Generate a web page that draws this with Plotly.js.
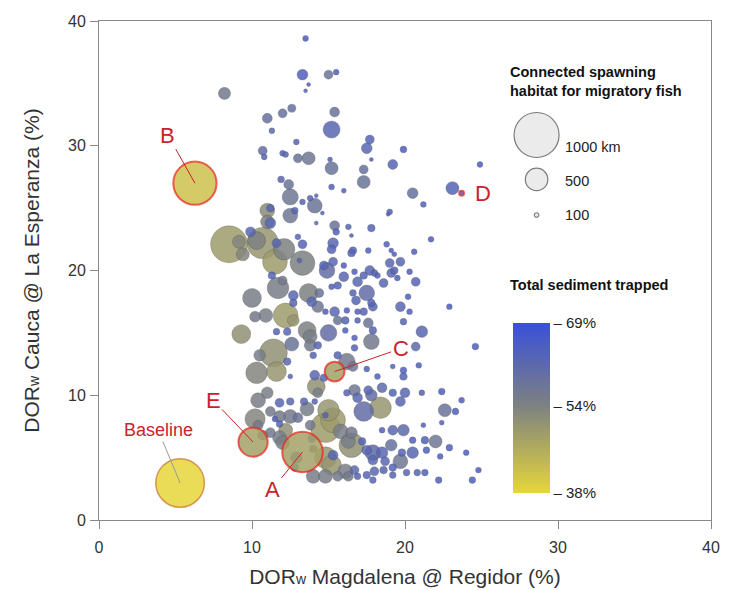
<!DOCTYPE html>
<html><head><meta charset="utf-8">
<script src="https://cdn.plot.ly/plotly-3.0.1.min.js"></script>
<style>html,body{margin:0;padding:0;background:#fff}</style>
</head><body><div id="chart" style="width:731px;height:590px"></div>
<script>
// Main alternatives: [DOR Magdalena, DOR Cauca, habitat km, sediment %]
const dorMagdalena = [13.5,13.3,15.0,15.5,13.7,13.5,8.2,11.0,12.0,12.6,11.3,15.4,15.2,12.9,17.7,17.5,19.9,10.7,10.8,12.0,12.2,13.0,13.7,15.1,15.2,17.8,17.3,17.3,19.2,24.9,11.9,12.4,15.2,16.0,12.5,14.1,13.8,14.2,13.3,12.5,12.8,14.6,20.5,21.2,23.1,19.0,18.9,14.2,15.4,16.3,17.8,11.0,11.2,11.2,11.0,
8.5,9.15,9.4,10.3,10.7,9.9,11.6,12.1,11.5,13.3,13.1,13.0,13.3,15.3,15.2,15.5,16.5,16.6,16.5,17.6,18.8,19.1,19.3,19.7,19.0,20.6,21.7,14.7,15.3,14.9,16.0,16.0,16.7,17.3,17.7,18.0,18.2,19.1,19.3,19.5,20.3,20.7,18.6,16.9,17.5,16.6,16.8,15.6,15.2,14.4,13.7,13.9,14.3,11.3,11.7,12.0,12.7,12.7,10.0,10.9,10.2,12.2,12.7,9.3,11.6,12.3,12.6,11.4,10.5,12.3,10.3,11.6,12.5,14.8,15.4,16.2,17.3,17.9,19.7,20.3,22.9,15.6,16.1,16.9,17.6,17.9,19.9,21.1,13.6,13.8,15.0,16.1,13.8,14.3,17.8,16.7,20.7,24.6,14.0,16.2,16.6,14.1,14.7,17.5,19.9,19.9,20.9,20.2,19.2,18.2,15.6,17.8,16.7,16.9,
14.2,14.3,16.7,16.2,17.8,18.5,19.2,20.0,21.1,22.4,23.7,22.6,23.3,22.4,21.2,18.4,17.3,16.9,19.7,17.6,11.0,10.4,11.8,12.5,13.6,13.4,14.1,15.0,15.3,14.8,15.8,16.5,16.3,10.2,11.5,11.8,12.5,13.0,12.2,11.8,11.2,13.8,14.8,13.9,14.0,12.9,12.8,14.8,15.2,15.3,14.0,14.8,16.1,15.6,16.7,16.5,17.2,17.5,17.9,18.5,17.9,18.7,18.5,19.2,19.9,19.1,19.8,19.7,19.2,20.5,20.5,21.3,22.0,21.4,22.3,22.9,24.0,24.8,24.4,22.2,20.8,20.1,18.6,18.0,17.5,17.9,16.9,16.3,19.2,21.3,10.7,10.4,11.2,11.8,12.0];
const dorCauca = [38.6,35.7,35.7,35.9,34.9,34.4,34.2,32.2,32.6,33.0,31.2,32.7,31.3,30.3,30.5,29.8,29.7,29.6,29.1,29.4,29.3,29.0,29.0,28.9,28.2,28.9,28.1,27.1,28.5,28.5,27.3,26.9,26.7,26.4,25.9,25.2,25.8,26.0,25.5,24.4,24.8,24.6,26.2,25.3,26.6,24.7,24.5,23.8,23.6,23.5,23.4,24.8,25.0,23.8,23.9,
22.1,22.3,21.3,22.4,22.2,23.1,22.2,21.7,20.7,20.6,20.8,22.7,22.1,22.2,21.7,23.1,22.8,21.6,21.4,21.6,22.1,21.6,21.3,20.7,20.6,21.5,22.5,20.4,20.7,20.0,20.4,19.5,19.9,19.6,20.0,19.8,19.6,19.8,20.0,19.4,19.9,19.1,19.0,19.1,18.2,18.2,17.6,18.8,18.7,18.2,18.2,17.5,17.1,19.6,18.6,19.2,18.0,17.4,17.8,16.4,16.3,16.4,16.0,14.9,15.1,15.1,14.1,13.4,13.2,12.7,11.8,11.9,11.5,16.7,16.7,16.8,16.7,17.1,17.1,16.7,17.1,16.0,16.0,16.0,15.8,15.2,15.9,15.1,15.2,14.7,15.0,15.2,14.0,14.0,14.3,13.8,13.9,13.9,13.2,12.7,12.3,11.6,11.4,12.1,12.0,11.5,12.4,17.9,12.3,11.5,13.2,17.4,14.6,16.7,
10.7,10.2,10.4,10.2,10.0,10.6,10.2,10.2,10.2,10.3,9.6,8.8,8.7,7.8,7.6,9.0,8.7,9.8,9.5,10.4,10.2,9.6,9.4,9.5,8.9,9.5,9.5,8.8,8.0,7.4,7.1,6.0,6.3,8.1,8.1,8.3,8.3,8.2,7.2,6.6,7.0,7.6,8.4,6.5,5.7,5.0,4.2,5.0,4.4,5.2,3.5,3.5,3.9,3.5,4.0,7.0,6.3,5.6,5.4,5.4,4.8,4.7,7.2,7.2,7.2,6.0,5.4,4.7,4.2,5.4,6.4,6.4,6.3,5.6,5.1,5.8,5.4,4.0,3.2,3.2,3.8,3.8,4.0,3.9,3.6,3.2,3.5,3.5,3.6,3.8,6.8,7.6,8.7,7.7,6.2];
const habitatKm = [130,240,200,130,60,60,270,220,200,180,130,220,380,130,200,240,150,200,130,130,130,200,290,110,290,60,200,290,220,130,150,220,130,110,360,330,130,60,130,330,150,60,240,130,290,130,60,90,220,130,170,330,170,240,300,
820,290,290,400,700,220,200,480,550,550,110,130,200,240,200,150,90,170,170,130,130,110,110,200,200,130,130,200,200,350,130,220,130,170,220,150,130,200,170,130,130,200,200,220,350,150,200,170,130,200,420,220,260,170,480,200,220,170,420,310,240,550,260,420,150,170,310,620,260,170,480,440,110,130,220,130,170,200,220,130,130,200,170,130,220,170,150,260,400,310,370,130,260,170,350,150,200,150,150,370,220,220,170,130,150,170,130,130,110,130,170,170,130,130,
400,220,260,150,260,220,170,220,130,150,130,290,150,110,110,480,440,220,220,200,260,330,200,170,310,170,130,480,550,660,330,550,310,450,130,260,310,220,310,310,220,220,130,170,170,260,170,480,440,220,310,310,330,220,200,260,170,220,350,260,220,200,130,220,260,260,170,330,170,260,150,170,290,150,130,150,130,130,150,150,150,150,170,200,170,150,150,220,150,150,220,220,220,150,310];
const sediment = [65,64,58,64,64,63,56,59,59,59,61,58,62,63,63,62,65,60,63,63,62,58,57,64,58,64,59,58,63,65,62,58,64,64,57,58,63,63,63,57,63,64,59,64,63,64,64,63,58,63,63,52,63,62,54,
49,53,53,54,50,62,62,54,49,54,63,63,63,62,63,64,64,63,63,64,64,64,64,62,62,64,65,63,62,60,64,62,64,63,62,63,64,62,63,64,64,63,62,62,60,63,63,63,64,58,54,62,57,63,55,56,62,63,55,55,56,49,50,51,63,62,58,51,55,62,53,50,63,64,62,64,63,63,62,64,65,58,63,64,58,63,63,62,54,55,60,64,56,63,56,63,61,64,63,56,57,62,63,64,64,63,64,64,64,64,63,63,64,64,
51,55,57,63,60,61,63,62,64,64,64,58,64,64,64,50,60,62,62,62,55,55,62,62,55,62,63,50,49,49,55,51,55,53,63,56,56,58,51,55,56,56,63,63,56,62,63,50,50,62,55,55,55,56,61,56,63,62,61,62,62,62,64,62,61,59,63,57,63,62,64,64,57,64,64,64,65,65,64,64,63,63,63,62,63,63,63,56,63,64,55,56,56,63,55];

// Highlighted alternatives
const hlLabels = ['Baseline','B','C','D','E','A'];
const hlMagdalena = [5.3,6.27,15.4,23.7,10.07,13.3];
const hlCauca = [2.97,27.0,11.9,26.2,6.25,5.45];
const hlKm = [1080,960,440,110,650,900];
const hlSediment = [38,42,48,64,48,48];

// Size legend and colour bar
const legendKm = [1000,500,100];
const legendLabels = ['1000 km','500','100'];
const colorTicks = [38,54,69];
const colorTickText = ['– 38%','– 54%','– 69%'];

const RED = '#c8232b';
const sizeRef = 1/0.045;
const cscale = [[0,'#e6d63a'],[0.516,'#7d8182'],[1,'#3a50da']];

// draw large bubbles first
const order = habitatKm.map((_,i)=>i).sort((a,b)=>habitatKm[b]-habitatKm[a]);
const pick = arr => order.map(i=>arr[i]);

const mainTrace = {
  type:'scatter', mode:'markers', xaxis:'x', yaxis:'y',
  x:pick(dorMagdalena), y:pick(dorCauca),
  marker:{size:pick(habitatKm), sizemode:'diameter', sizeref:sizeRef, sizemin:2,
    color:pick(sediment), cmin:38, cmax:69, colorscale:cscale, opacity:0.85,
    line:{width:0.7,color:'rgba(70,70,70,0.45)'},
    colorbar:{x:(513-99)/612, xanchor:'left', y:(520-408)/499, yanchor:'middle',
      len:170/499, lenmode:'fraction', thickness:37, thicknessmode:'pixels',
      outlinewidth:0, tickvals:colorTicks, ticktext:colorTickText, ticks:'',
      tickfont:{size:15,color:'#222'}, xpad:0, ypad:0}},
  hoverinfo:'skip'
};
const hlFill = {
  type:'scatter', mode:'markers', x:hlMagdalena, y:hlCauca,
  marker:{size:hlKm, sizemode:'diameter', sizeref:sizeRef, color:hlSediment,
    cmin:38, cmax:69, colorscale:cscale, opacity:0.85, showscale:false, line:{width:0}},
  hoverinfo:'skip'
};
const hlRing = {
  type:'scatter', mode:'markers', x:hlMagdalena, y:hlCauca,
  marker:{size:hlKm, sizemode:'diameter', sizeref:sizeRef, color:'rgba(0,0,0,0)',
    line:{width:hlLabels.map(l=>l==='Baseline'?1.5:2), color:hlLabels.map(l=>l==='Baseline'?'#c9702c':'#e8251c')}},
  hoverinfo:'skip'
};
const sizeLegend = {
  type:'scatter', mode:'markers', xaxis:'x2', yaxis:'y2', cliponaxis:false,
  x:legendKm.map(()=>0.5), y:legendKm,
  marker:{size:legendKm, sizemode:'diameter', sizeref:sizeRef, color:'#e3e3e3',
    line:{width:1.2,color:'#444'}},
  hoverinfo:'skip'
};

const ann = [];
ann.push({xref:'paper',yref:'paper',x:(508-99)/612,y:(520-62)/499,xanchor:'left',yanchor:'top',align:'left',
  showarrow:false,text:'<b>Connected spawning<br>habitat for migratory fish</b>',font:{size:14.5,color:'#111'}});
ann.push({xref:'paper',yref:'paper',x:(508-99)/612,y:(520-285)/499,xanchor:'left',yanchor:'middle',align:'left',
  showarrow:false,text:'<b>Total sediment trapped</b>',font:{size:14.5,color:'#111'}});
const legShift = [-12,-2,0];
legendKm.forEach((k,i)=>ann.push({xref:'x2',yref:'y2',x:0.5,y:k,xanchor:'left',yanchor:'middle',
  xshift:26,yshift:legShift[i],showarrow:false,text:legendLabels[i],font:{size:14.5,color:'#222'}}));

// label offsets (pixels) for highlighted alternatives
const labOff = {Baseline:[-22,-53],B:[-27,-48],C:[66,-23],E:[-40,-42],A:[-30,37]};
hlLabels.forEach((l,i)=>{
  if(l==='D'){
    ann.push({x:hlMagdalena[i],y:hlCauca[i],xref:'x',yref:'y',text:l,showarrow:false,xshift:21,
      font:{size:22,color:RED}});
  } else {
    ann.push({x:hlMagdalena[i],y:hlCauca[i],xref:'x',yref:'y',text:l,showarrow:true,arrowhead:0,
      arrowwidth:1,arrowcolor:l==='Baseline'?'#9a9a9a':RED,ax:labOff[l][0],ay:labOff[l][1],standoff:0,
      font:{size:l==='Baseline'?18:22,color:RED}});
  }
});

const sub = '<span style="font-size:14px">w</span>';
const axisCommon = {range:[0,40],tickvals:[0,10,20,30,40],ticks:'outside',ticklen:8,tickcolor:'#888',
  linecolor:'#888',linewidth:1,mirror:true,showgrid:false,zeroline:false,
  tickfont:{size:16,color:'#333'}};
const layout = {
  width:731,height:590,margin:{l:99,r:20,t:21,b:70},
  paper_bgcolor:'#fff',plot_bgcolor:'#fff',showlegend:false,
  font:{family:'Arial, "Liberation Sans", sans-serif',color:'#333'},
  xaxis:Object.assign({},axisCommon,{ticklabelstandoff:5,automargin:false,
    title:{text:'DOR'+sub+' Magdalena @ Regidor (%)',font:{size:21,color:'#333'},standoff:14}}),
  yaxis:Object.assign({},axisCommon,{ticklabelstandoff:1,automargin:false,
    title:{text:'DOR'+sub+' Cauca @ La Esperanza (%)',font:{size:21,color:'#333'},standoff:22}}),
  xaxis2:{domain:[0.69,0.74],range:[0,1],visible:false,anchor:'y2'},
  yaxis2:{domain:[(520-230)/499,(520-120)/499],range:[-68.6,1168.7],visible:false,anchor:'x2'},
  annotations:ann
};
Plotly.newPlot('chart',[mainTrace,hlFill,hlRing,sizeLegend],layout,{displayModeBar:false,staticPlot:true});
</script></body></html>
